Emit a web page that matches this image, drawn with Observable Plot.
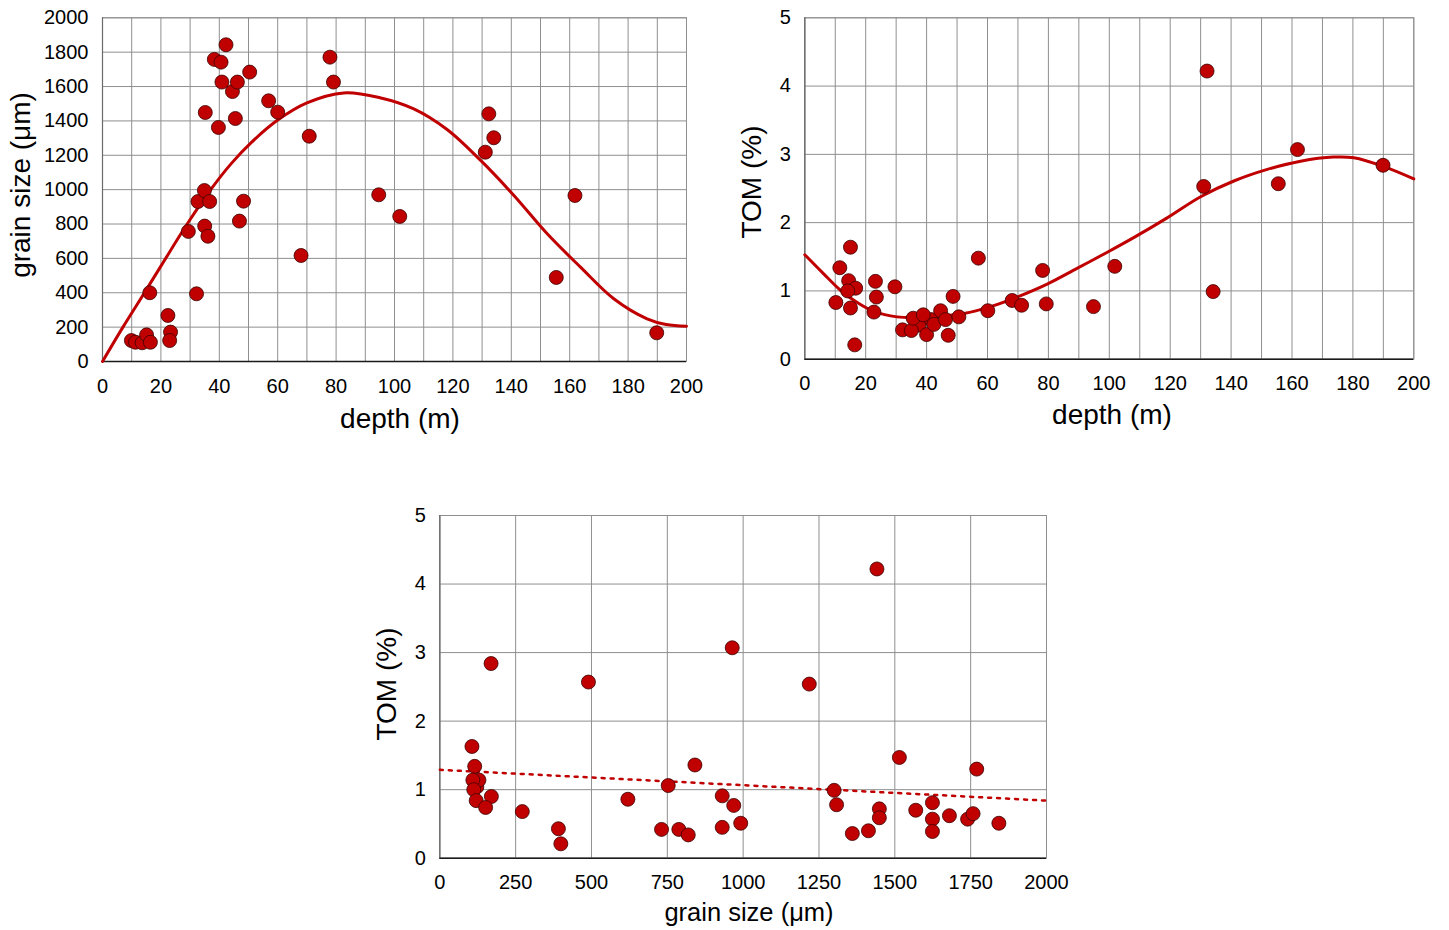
<!DOCTYPE html>
<html><head><meta charset="utf-8">
<script src="https://cdn.jsdelivr.net/npm/d3@7"></script>
<script src="https://cdn.jsdelivr.net/npm/@observablehq/plot@0.6"></script>
<style>
body{margin:0;background:#fff;width:1449px;height:930px;position:relative;overflow:hidden;font-family:"Liberation Sans",Arial,sans-serif}
.panel{position:absolute}
</style></head><body>
<div id="p1" class="panel" style="left:0;top:0"></div>
<div id="p2" class="panel" style="left:700px;top:0"></div>
<div id="p3" class="panel" style="left:340px;top:480px"></div>
<script>
// Panel 1: depth vs grain size
const depth1 = [9.9,11.3,13.6,15.1,16.4,16.2,22.4,23.3,23.0,29.4,32.2,32.7,34.9,36.7,35.0,36.1,35.2,39.7,38.3,40.6,42.3,40.9,44.5,46.2,45.5,46.9,48.3,50.4,56.9,60.0,68.0,70.8,77.9,79.1,94.6,101.8,132.3,134.0,131.1,161.8,155.4,189.8];
const grain1 = [122,112,109,155,112,400,268,171,122,757,394,931,995,931,788,729,1449,1362,1758,1742,1843,1626,1571,1626,1414,817,933,1684,1517,1451,617,1311,1771,1626,970,844,1441,1302,1218,966,489,167];
const fit1Depth = [0,7,14,20,29,37.5,44,51,60,70,82.6,95,106.6,118,129.5,140.9,152.3,163.7,175.1,186.5,193,200];
const fit1Grain = [0,200,390,555,800,1010,1150,1275,1405,1505,1563,1535,1470,1350,1170,966,743,549,365,248,215,205];

// Panel 2: depth vs TOM
const depth2 = [37.5,41.5,15.0,11.5,14.4,16.7,14.1,10.2,15.0,16.4,23.2,23.5,22.7,29.6,32.1,35.0,35.6,38.9,40.0,42.4,44.6,46.2,47.1,48.7,50.6,57.0,60.1,68.1,71.2,78.1,79.3,94.8,101.8,132.1,131.0,134.1,155.5,161.8,189.9];
const tom2 = [0.50,0.58,1.64,1.34,1.15,1.04,1.00,0.83,0.75,0.21,1.14,0.91,0.69,1.06,0.43,0.42,0.60,0.65,0.36,0.51,0.71,0.58,0.35,0.92,0.62,1.48,0.71,0.86,0.79,1.30,0.81,0.77,1.36,4.22,2.53,0.99,2.57,3.07,2.84];
const fit2Depth = [0,6.2,11.7,17.2,22.7,30.3,36.9,43.5,52.2,61.0,69.7,79.6,89.4,99.5,108,119,130,140.9,151.9,162.8,173.7,180.3,190.2,200];
const fit2Tom = [1.53,1.25,1.01,0.83,0.70,0.62,0.61,0.63,0.67,0.77,0.91,1.10,1.33,1.57,1.78,2.07,2.38,2.61,2.78,2.90,2.96,2.95,2.82,2.64];

// Panel 3: grain size vs TOM
const grain3 = [122,106,115,129,109,112,120,170,151,169,272,391,399,490,620,731,753,788,819,841,931,931,964,969,992,1218,1300,1308,1360,1413,1441,1449,1449,1515,1569,1624,1624,1624,1680,1740,1758,1770,1843];
const tom3 = [1.04,1.63,1.34,1.14,1.14,1.00,0.84,0.90,0.74,2.84,0.68,0.43,0.21,2.57,0.86,0.42,1.06,0.42,0.34,1.36,0.91,0.45,3.07,0.77,0.51,2.54,0.99,0.78,0.36,0.40,4.22,0.72,0.59,1.47,0.70,0.81,0.57,0.39,0.62,0.57,0.65,1.30,0.51];
const trend3Grain = [0,2000];
const trend3Tom = [1.29,0.84];

// Tick labels
const depthTicks = [0,20,40,60,80,100,120,140,160,180,200];
const grainTicks = [0,200,400,600,800,1000,1200,1400,1600,1800,2000];
const tomTicks = [0,1,2,3,4,5];
const grainTicks3 = [0,250,500,750,1000,1250,1500,1750,2000];

const RED = "#c00000", DOTSTROKE = "#3a0000", GRID = "#8f8f8f", FONT = '"Liberation Sans", Arial, sans-serif';
const TICKFS = 20;

const pts = (xs, ys) => xs.map((x, i) => ({x, y: ys[i]}));

function panel({el, width, height, margins, xDomain, yDomain, xGrid, yGrid, xTicks, yTicks, marks, xTitle, yTitle}) {
  const svg = Plot.plot({
    width, height,
    marginLeft: margins[0], marginRight: margins[1], marginTop: margins[2], marginBottom: margins[3],
    style: {fontFamily: FONT, fontSize: TICKFS + "px", color: "#000", background: "transparent", overflow: "visible"},
    x: {domain: xDomain, type: "linear"},
    y: {domain: yDomain, type: "linear"},
    marks: [
      Plot.gridX(xGrid, {stroke: GRID, strokeOpacity: 1, strokeWidth: 1}),
      Plot.gridY(yGrid, {stroke: GRID, strokeOpacity: 1, strokeWidth: 1}),
      Plot.frame({stroke: GRID, strokeWidth: 1}),
      Plot.ruleX([xDomain[0]], {stroke: "#6a6a6a", strokeWidth: 1.2}),
      Plot.ruleY([yDomain[0]], {stroke: "#1a1a1a", strokeWidth: 1.6}),
      ...marks,
      Plot.axisX(xTicks, {tickSize: 0, tickPadding: 17, fontSize: TICKFS, label: null, fill: "#000", tickFormat: d => String(d)}),
      Plot.axisY(yTicks, {tickSize: 0, tickPadding: 14, fontSize: TICKFS, label: null, fill: "#000", tickFormat: d => String(d)})
    ]
  });
  const s = d3.select(svg);
  s.append("text").attr("x", xTitle[0]).attr("y", xTitle[1]).attr("text-anchor", "middle")
    .attr("font-size", xTitle[3]).attr("font-family", FONT).attr("fill", "#000").text(xTitle[2]);
  s.append("text").attr("transform", `translate(${yTitle[0]},${yTitle[1]}) rotate(-90)`).attr("text-anchor", "middle")
    .attr("font-size", yTitle[3]).attr("font-family", FONT).attr("fill", "#000").text(yTitle[2]);
  document.getElementById(el).appendChild(svg);
}

const dotOpts = {x: "x", y: "y", r: 7, fill: RED, stroke: DOTSTROKE, strokeWidth: 0.8};

panel({
  el: "p1", width: 720, height: 440, margins: [102, 34, 17.3, 79],
  xDomain: [0, 200], yDomain: [0, 2000],
  xGrid: d3.range(0, 201, 10), yGrid: grainTicks, xTicks: depthTicks, yTicks: grainTicks,
  marks: [
    Plot.line(pts(fit1Depth, fit1Grain), {x: "x", y: "y", curve: "catmull-rom", stroke: RED, strokeWidth: 3}),
    Plot.dot(pts(depth1, grain1), dotOpts)
  ],
  xTitle: [400, 428, "depth (m)", 28], yTitle: [30, 185, "grain size (μm)", 28]
});

panel({
  el: "p2", width: 749, height: 440, margins: [104.3, 35.7, 17.3, 81.3],
  xDomain: [0, 200], yDomain: [0, 5],
  xGrid: d3.range(0, 201, 10), yGrid: tomTicks, xTicks: depthTicks, yTicks: tomTicks,
  marks: [
    Plot.line(pts(fit2Depth, fit2Tom), {x: "x", y: "y", curve: "catmull-rom", stroke: RED, strokeWidth: 3}),
    Plot.dot(pts(depth2, tom2), dotOpts)
  ],
  xTitle: [412, 424, "depth (m)", 28], yTitle: [61, 182, "TOM (%)", 28]
});

panel({
  el: "p3", width: 760, height: 450, margins: [99.3, 54, 35, 72.3],
  xDomain: [0, 2000], yDomain: [0, 5],
  xGrid: grainTicks3, yGrid: tomTicks, xTicks: grainTicks3, yTicks: tomTicks,
  marks: [
    Plot.line(pts(trend3Grain, trend3Tom), {x: "x", y: "y", stroke: RED, strokeWidth: 2.5, strokeDasharray: "3,6"}),
    Plot.dot(pts(grain3, tom3), dotOpts)
  ],
  xTitle: [409, 441, "grain size (μm)", 25.5], yTitle: [56, 204, "TOM (%)", 28]
});
</script>
</body></html>
